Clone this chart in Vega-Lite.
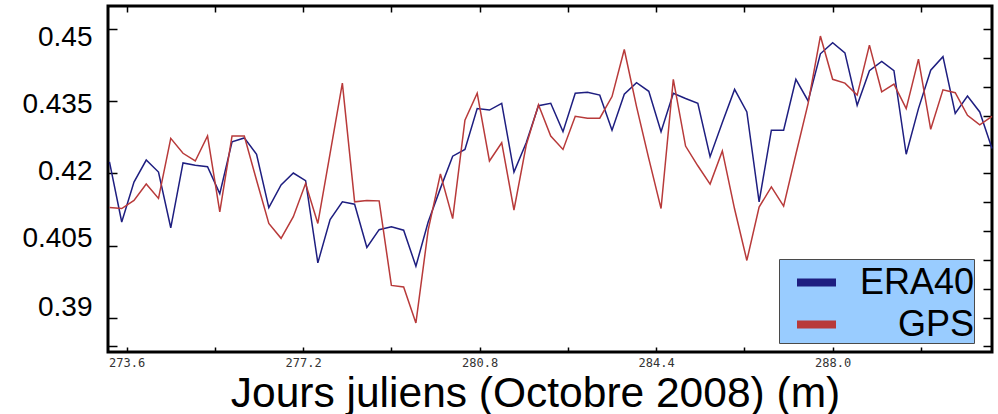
{
  "$schema": "https://vega.github.io/schema/vega-lite/v6.json",
  "width": 884,
  "height": 346,
  "autosize": {"type": "none"},
  "padding": {"left": 108, "top": 6, "right": 6, "bottom": 62},
  "background": "white",
  "config": {
    "view": {"stroke": "#000", "strokeWidth": 3},
    "axis": {"domain": false, "grid": false, "tickColor": "#000", "tickWidth": 1.5}
  },
  "data": {"values": [
    {"t": 273.25, "ERA40": 0.4224, "GPS": 0.4129},
    {"t": 273.50, "ERA40": 0.4099, "GPS": 0.4127},
    {"t": 273.75, "ERA40": 0.4182, "GPS": 0.4144},
    {"t": 274.00, "ERA40": 0.4228, "GPS": 0.4178},
    {"t": 274.25, "ERA40": 0.4203, "GPS": 0.4148},
    {"t": 274.50, "ERA40": 0.4087, "GPS": 0.4273},
    {"t": 274.75, "ERA40": 0.4222, "GPS": 0.4242},
    {"t": 275.00, "ERA40": 0.4217, "GPS": 0.4226},
    {"t": 275.25, "ERA40": 0.4214, "GPS": 0.4278},
    {"t": 275.50, "ERA40": 0.4158, "GPS": 0.4120},
    {"t": 275.75, "ERA40": 0.4266, "GPS": 0.4278},
    {"t": 276.00, "ERA40": 0.4274, "GPS": 0.4278},
    {"t": 276.25, "ERA40": 0.4240, "GPS": 0.4186},
    {"t": 276.50, "ERA40": 0.4129, "GPS": 0.4096},
    {"t": 276.75, "ERA40": 0.4176, "GPS": 0.4065},
    {"t": 277.00, "ERA40": 0.4201, "GPS": 0.4110},
    {"t": 277.25, "ERA40": 0.4185, "GPS": 0.4179},
    {"t": 277.50, "ERA40": 0.4014, "GPS": 0.4096},
    {"t": 277.75, "ERA40": 0.4104, "GPS": 0.4242},
    {"t": 278.00, "ERA40": 0.4141, "GPS": 0.4388},
    {"t": 278.25, "ERA40": 0.4136, "GPS": 0.4141},
    {"t": 278.50, "ERA40": 0.4046, "GPS": 0.4144},
    {"t": 278.75, "ERA40": 0.4083, "GPS": 0.4143},
    {"t": 279.00, "ERA40": 0.4089, "GPS": 0.3967},
    {"t": 279.25, "ERA40": 0.4082, "GPS": 0.3964},
    {"t": 279.50, "ERA40": 0.4007, "GPS": 0.3889},
    {"t": 279.75, "ERA40": 0.4099, "GPS": 0.4082},
    {"t": 280.00, "ERA40": 0.4169, "GPS": 0.4199},
    {"t": 280.25, "ERA40": 0.4236, "GPS": 0.4106},
    {"t": 280.50, "ERA40": 0.4250, "GPS": 0.4311},
    {"t": 280.75, "ERA40": 0.4335, "GPS": 0.4367},
    {"t": 281.00, "ERA40": 0.4332, "GPS": 0.4226},
    {"t": 281.25, "ERA40": 0.4346, "GPS": 0.4264},
    {"t": 281.50, "ERA40": 0.4203, "GPS": 0.4124},
    {"t": 281.75, "ERA40": 0.4264, "GPS": 0.4259},
    {"t": 282.00, "ERA40": 0.4341, "GPS": 0.4343},
    {"t": 282.25, "ERA40": 0.4346, "GPS": 0.4278},
    {"t": 282.50, "ERA40": 0.4287, "GPS": 0.4250},
    {"t": 282.75, "ERA40": 0.4367, "GPS": 0.4319},
    {"t": 283.00, "ERA40": 0.4369, "GPS": 0.4315},
    {"t": 283.25, "ERA40": 0.4363, "GPS": 0.4315},
    {"t": 283.50, "ERA40": 0.4290, "GPS": 0.4360},
    {"t": 283.75, "ERA40": 0.4365, "GPS": 0.4458},
    {"t": 284.00, "ERA40": 0.4389, "GPS": 0.4339},
    {"t": 284.25, "ERA40": 0.4371, "GPS": 0.4231},
    {"t": 284.50, "ERA40": 0.4287, "GPS": 0.4127},
    {"t": 284.75, "ERA40": 0.4367, "GPS": 0.4396},
    {"t": 285.00, "ERA40": 0.4356, "GPS": 0.4257},
    {"t": 285.25, "ERA40": 0.4346, "GPS": 0.4216},
    {"t": 285.50, "ERA40": 0.4235, "GPS": 0.4178},
    {"t": 285.75, "ERA40": 0.4306, "GPS": 0.4247},
    {"t": 286.00, "ERA40": 0.4375, "GPS": 0.4126},
    {"t": 286.25, "ERA40": 0.4328, "GPS": 0.4019},
    {"t": 286.50, "ERA40": 0.4141, "GPS": 0.4130},
    {"t": 286.75, "ERA40": 0.4290, "GPS": 0.4172},
    {"t": 287.00, "ERA40": 0.4290, "GPS": 0.4132},
    {"t": 287.25, "ERA40": 0.4396, "GPS": 0.4240},
    {"t": 287.50, "ERA40": 0.4351, "GPS": 0.4346},
    {"t": 287.75, "ERA40": 0.4449, "GPS": 0.4486},
    {"t": 288.00, "ERA40": 0.4472, "GPS": 0.4396},
    {"t": 288.25, "ERA40": 0.4451, "GPS": 0.4388},
    {"t": 288.50, "ERA40": 0.4342, "GPS": 0.4363},
    {"t": 288.75, "ERA40": 0.4414, "GPS": 0.4467},
    {"t": 289.00, "ERA40": 0.4433, "GPS": 0.4370},
    {"t": 289.25, "ERA40": 0.4414, "GPS": 0.4386},
    {"t": 289.50, "ERA40": 0.4240, "GPS": 0.4335},
    {"t": 289.75, "ERA40": 0.4335, "GPS": 0.4438},
    {"t": 290.00, "ERA40": 0.4415, "GPS": 0.4292},
    {"t": 290.25, "ERA40": 0.4443, "GPS": 0.4374},
    {"t": 290.50, "ERA40": 0.4325, "GPS": 0.4368},
    {"t": 290.75, "ERA40": 0.4361, "GPS": 0.4321},
    {"t": 291.00, "ERA40": 0.4328, "GPS": 0.4301},
    {"t": 291.25, "ERA40": 0.4252, "GPS": 0.4319}
  ]},
  "layer": [
    {
      "mark": {"type": "line", "strokeWidth": 1.5},
      "encoding": {
        "x": {
          "field": "t", "type": "quantitative",
          "scale": {"domain": [273.22, 291.25], "nice": false, "zero": false},
          "axis": {
            "orient": "bottom",
            "values": [273.6, 275.4, 277.2, 279.0, 280.8, 282.6, 284.4, 286.2, 288.0, 289.8],
            "tickSize": -5,
            "labelExpr": "abs((datum.value - 273.6) / 3.6 - round((datum.value - 273.6) / 3.6)) < 0.01 ? format(datum.value, '.1f') : ''",
            "labelFont": "DejaVu Sans Mono",
            "labelFontSize": 12,
            "labelColor": "#333",
            "labelPadding": 10,
            "labelBaseline": "top",
            "title": "Jours juliens (Octobre 2008) (m)",
            "titleFont": "Liberation Sans",
            "titleFontSize": 42.5,
            "titleFontWeight": "normal",
            "titleColor": "#000",
            "titleX": 427,
            "titleY": 54,
            "titleAlign": "center",
            "titleBaseline": "alphabetic"
          }
        },
        "y": {
          "field": "ERA40", "type": "quantitative",
          "scale": {"domain": [0.38285, 0.45485], "nice": false, "zero": false},
          "axis": {
            "orient": "left",
            "title": null,
            "values": [0.384, 0.39, 0.405, 0.42, 0.435, 0.45],
            "tickSize": -9,
            "labelExpr": "datum.value < 0.386 ? '' : format(datum.value, '.3~f')",
            "labelFont": "Liberation Sans",
            "labelFontSize": 28,
            "labelColor": "#000",
            "labelPadding": 25,
            "labelBaseline": "middle",
            "labelOffset": {
              "condition": [
                {"test": "datum.value > 0.449", "value": 8.2},
                {"test": "datum.value > 0.434", "value": 2.7},
                {"test": "datum.value > 0.419", "value": -2.3},
                {"test": "datum.value > 0.404", "value": -7}
              ],
              "value": -9.7
            }
          }
        },
        "color": {
          "datum": "ERA40", "type": "nominal",
          "scale": {"domain": ["ERA40", "GPS"], "range": ["#1e1e80", "#b83a3a"]},
          "legend": {
            "orient": "none",
            "legendX": 671,
            "legendY": 253,
            "title": null,
            "fillColor": "#99ccff",
            "strokeColor": "#4a4a4a",
            "padding": 0,
            "symbolType": "stroke",
            "symbolSize": 1521,
            "symbolStrokeWidth": 8,
            "symbolOffset": 14,
            "labelFont": "Liberation Sans",
            "labelFontSize": 36,
            "labelColor": "#000",
            "labelAlign": "right",
            "labelOffset": 134,
            "labelLimit": 400,
            "rowPadding": -5
          }
        }
      }
    },
    {
      "mark": {"type": "line", "strokeWidth": 1.5},
      "encoding": {
        "x": {
          "field": "t", "type": "quantitative",
          "scale": {"domain": [273.22, 291.25], "nice": false, "zero": false},
          "axis": {
            "orient": "top",
            "title": null,
            "labels": false,
            "values": [273.6, 275.4, 277.2, 279.0, 280.8, 282.6, 284.4, 286.2, 288.0, 289.8],
            "tickSize": -6
          }
        },
        "y": {
          "field": "GPS", "type": "quantitative",
          "scale": {"domain": [0.38285, 0.45485], "nice": false, "zero": false},
          "axis": {
            "orient": "right",
            "title": null,
            "labels": false,
            "values": [0.384, 0.39, 0.396, 0.402, 0.408, 0.414, 0.42, 0.426, 0.432, 0.438, 0.444, 0.45],
            "tickSize": -9
          }
        },
        "color": {"datum": "GPS", "type": "nominal"}
      }
    }
  ],
  "resolve": {"axis": {"x": "independent", "y": "independent"}}
}
